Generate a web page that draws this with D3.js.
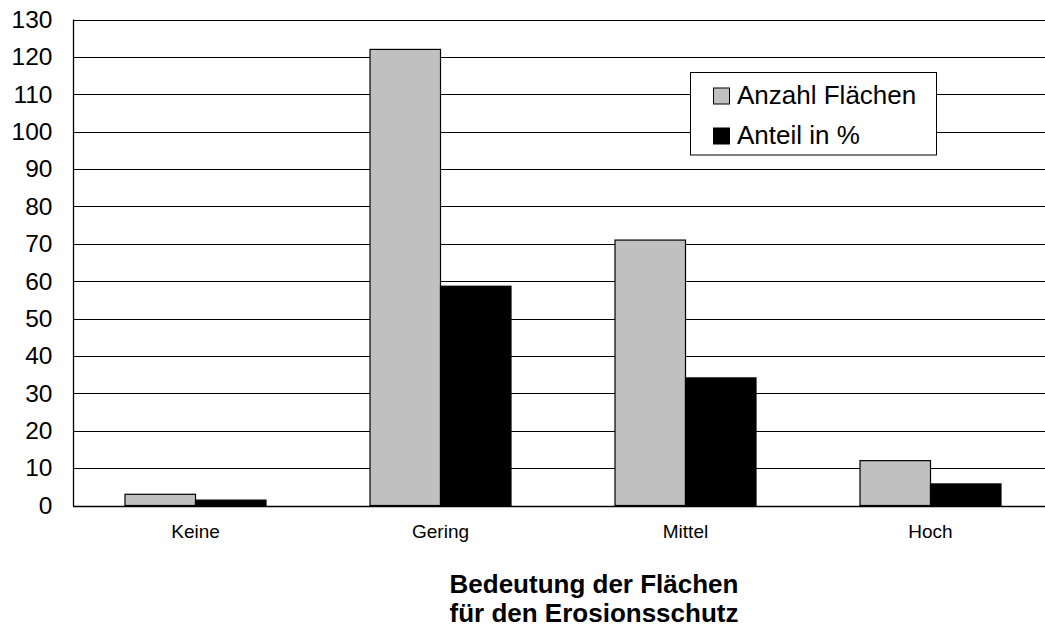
<!DOCTYPE html>
<html>
<head>
<meta charset="utf-8">
<script src="https://cdn.jsdelivr.net/npm/d3@7"></script>
<style>
  html, body { margin: 0; padding: 0; background: #fff; }
  svg { display: block; font-family: "Liberation Sans", Arial, sans-serif; }
</style>
</head>
<body>
<svg id="chart" width="1045" height="630"></svg>
<script>
// Kategorien und Werte
const categories = ["Keine", "Gering", "Mittel", "Hoch"];
const seriesNames = ["Anzahl Flächen", "Anteil in %"];
const anzahlFlaechen = [3, 122, 71, 12];
const anteilProzent = [1.44, 58.65, 34.13, 5.77];
const yTicks = [0, 10, 20, 30, 40, 50, 60, 70, 80, 90, 100, 110, 120, 130];
const xTitle = ["Bedeutung der Flächen", "für den Erosionsschutz"];

const colors = ["#c0c0c0", "#000000"];
const series = [anzahlFlaechen, anteilProzent];

const svg = d3.select("#chart");
const plot = { left: 73, right: 1053, top: 19.5, bottom: 505.5 };

const x = d3.scaleBand().domain(categories).range([plot.left, plot.right]).paddingInner(0).paddingOuter(0);
const barW = 70.5;
const xSeries = d3.scaleBand().domain(seriesNames).range([0, barW * 2]);
const y = d3.scaleLinear().domain([0, 130]).range([plot.bottom, plot.top]);

// Gitterlinien
svg.append("g")
  .selectAll("line")
  .data(yTicks.filter(d => d > 0))
  .join("line")
  .attr("x1", plot.left).attr("x2", plot.right)
  .attr("y1", d => Math.round(y(d)) + 0.5).attr("y2", d => Math.round(y(d)) + 0.5)
  .attr("stroke", "#000").attr("stroke-width", 1);

// Y-Achse
const yAxis = d3.axisLeft(y).tickValues(yTicks).tickSize(0).tickPadding(20.5);
const gy = svg.append("g").attr("transform", `translate(${plot.left},0)`).call(yAxis);
gy.select(".domain").remove();
gy.selectAll("text")
  .attr("font-size", 24.5)
  .attr("fill", "#000")
  .attr("font-family", "'Liberation Sans', Arial, sans-serif");

// Balken
categories.forEach((cat, i) => {
  const x0 = x(cat) + x.bandwidth() / 2 - barW;
  svg.append("g")
    .selectAll("rect")
    .data(seriesNames.map((s, k) => ({ s, v: series[k][i], k })))
    .join("rect")
    .attr("x", d => x0 + xSeries(d.s))
    .attr("y", d => y(d.v))
    .attr("width", xSeries.bandwidth())
    .attr("height", d => plot.bottom - y(d.v))
    .attr("fill", d => colors[d.k])
    .attr("stroke", "#000")
    .attr("stroke-width", 1.2);
});

// Achsenlinien
svg.append("line")
  .attr("x1", plot.left + 0.5).attr("x2", plot.left + 0.5)
  .attr("y1", plot.top).attr("y2", plot.bottom + 0.5)
  .attr("stroke", "#000").attr("stroke-width", 1.3);
svg.append("line")
  .attr("x1", plot.left).attr("x2", plot.right)
  .attr("y1", Math.round(plot.bottom) + 0.5).attr("y2", Math.round(plot.bottom) + 0.5)
  .attr("stroke", "#000").attr("stroke-width", 1.3);

// Kategorienbeschriftung
const xAxis = d3.axisBottom(x).tickSize(0).tickPadding(19);
const gx = svg.append("g").attr("transform", `translate(0,${plot.bottom})`).call(xAxis);
gx.select(".domain").remove();
gx.selectAll("text")
  .attr("font-size", 19)
  .attr("fill", "#000")
  .attr("font-family", "'Liberation Sans', Arial, sans-serif");

// Achsentitel
svg.append("g")
  .selectAll("text")
  .data(xTitle)
  .join("text")
  .attr("x", 594)
  .attr("y", (d, i) => 593 + i * 28.5)
  .attr("text-anchor", "middle")
  .attr("font-size", 26)
  .attr("font-weight", "bold")
  .attr("fill", "#000")
  .text(d => d);

// Legende
const legend = svg.append("g");
legend.append("rect")
  .attr("x", 690.5).attr("y", 72.5)
  .attr("width", 246).attr("height", 82.5)
  .attr("fill", "#fff").attr("stroke", "#000").attr("stroke-width", 1);
const items = legend.selectAll("g.item")
  .data(seriesNames)
  .join("g")
  .attr("class", "item")
  .attr("transform", (d, i) => `translate(713.5,${88 + i * 40})`);
items.append("rect")
  .attr("width", 16).attr("height", 16)
  .attr("fill", (d, i) => colors[i])
  .attr("stroke", "#000").attr("stroke-width", 1);
items.append("text")
  .attr("x", 23.5).attr("y", 15.5)
  .attr("font-size", 26)
  .attr("fill", "#000")
  .text(d => d);
</script>
</body>
</html>
